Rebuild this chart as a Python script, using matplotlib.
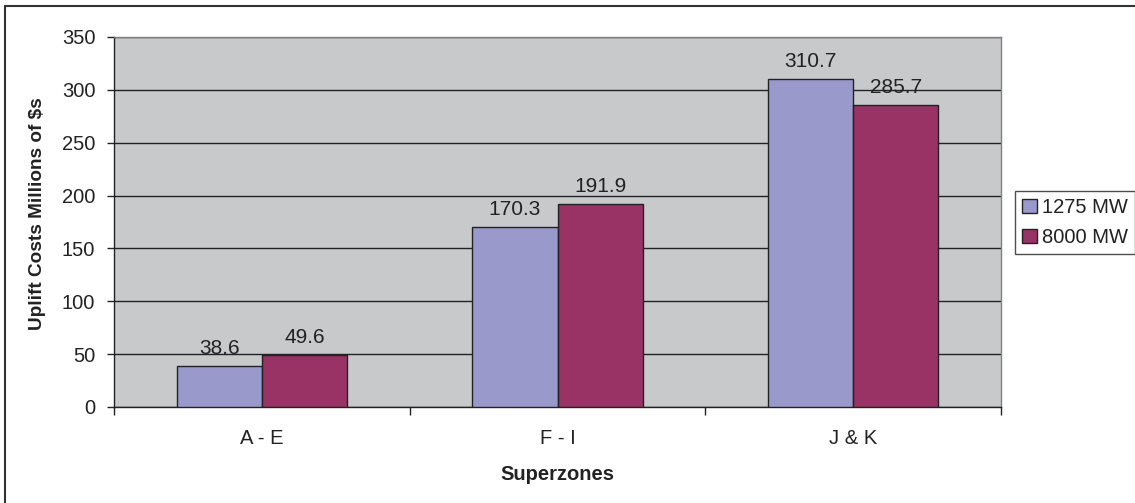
import matplotlib
matplotlib.use("Agg")
import matplotlib.pyplot as plt
import numpy as np
from matplotlib.patches import Rectangle

categories = ["A - E", "F - I", "J & K"]
series_names = ["1275 MW", "8000 MW"]
values_1275 = [38.6, 170.3, 310.7]
values_8000 = [49.6, 191.9, 285.7]
yticks = [0, 50, 100, 150, 200, 250, 300, 350]

plt.rcParams['font.family'] = ['Liberation Sans', 'DejaVu Sans']

FS = 14.5
fig = plt.figure(figsize=(11.35, 5.03), dpi=100)
W, H = 1135, 503
ax = fig.add_axes([114 / W, 1 - 407 / H, (1001 - 114) / W, (407 - 37) / H])
ax.set_facecolor('#C8C9CB')

x = np.arange(len(categories))
w = 0.288
colors = ['#9999CC', '#993366']
b1 = ax.bar(x - w / 2, values_1275, w, color=colors[0], edgecolor='#222222', linewidth=1, label=series_names[0], zorder=3)
b2 = ax.bar(x + w / 2, values_8000, w, color=colors[1], edgecolor='#222222', linewidth=1, label=series_names[1], zorder=3)
for bars, vals in ((b1, values_1275), (b2, values_8000)):
    for r, v in zip(bars, vals):
        ax.annotate(f"{v:.1f}", (r.get_x() + r.get_width() / 2, v), xytext=(0, 8.6),
                    textcoords='offset points', ha='center', va='baseline',
                    fontsize=15, color='#222222', zorder=4)

ax.set_xlim(-0.5, 2.5)
ax.set_ylim(0, 350)
ax.set_yticks(yticks)
ax.set_yticklabels([str(t) for t in yticks], fontsize=FS, color='#222222')
ax.yaxis.grid(True, color='#222222', linewidth=1)
ax.set_axisbelow(True)
ax.tick_params(axis='y', direction='out', length=5, width=1, color='#222222', pad=8.5)

ax.set_xticks(x)
ax.set_xticklabels(categories, fontsize=FS, color='#222222')
ax.tick_params(axis='x', length=0, pad=16)
ax.set_xticks([-0.5, 0.5, 1.5, 2.5], minor=True)
ax.tick_params(axis='x', which='minor', direction='out', length=6, width=1, color='#222222')

for s in ['top', 'right']:
    ax.spines[s].set_color('#808080')
    ax.spines[s].set_linewidth(1)
for s in ['left', 'bottom']:
    ax.spines[s].set_color('#222222')
    ax.spines[s].set_linewidth(1)

ax.set_xlabel("Superzones", fontsize=FS, fontweight='bold', color='#222222')
ax.xaxis.set_label_coords(0.5, -(465 - 407) / (407 - 37))
ax.set_ylabel("Uplift Costs Millions of $s", fontsize=13.7, fontweight='bold', color='#222222')
ax.yaxis.set_label_coords(-(114 - 38) / (1001 - 114), (407 - 214) / (407 - 37))
ax.yaxis.label.set_verticalalignment('center')

leg = fig.legend(handles=[b1, b2], labels=series_names, loc='upper left',
                 bbox_to_anchor=(1015 / W, 1 - 191 / H), fontsize=FS,
                 frameon=True, fancybox=False, edgecolor='#222222',
                 handlelength=0.75, handleheight=0.75, handletextpad=0.25,
                 borderpad=0.35, labelspacing=0.55, borderaxespad=0)
leg.get_frame().set_linewidth(1)
for t in leg.get_texts():
    t.set_color('#222222')

fig.patches.append(Rectangle((5 / W, -0.1), 1.2, 1 - 6 / H + 0.1,
                             transform=fig.transFigure, fill=False, edgecolor='#333333', linewidth=1.5))

fig.savefig("out.png", dpi=100, facecolor='white')
